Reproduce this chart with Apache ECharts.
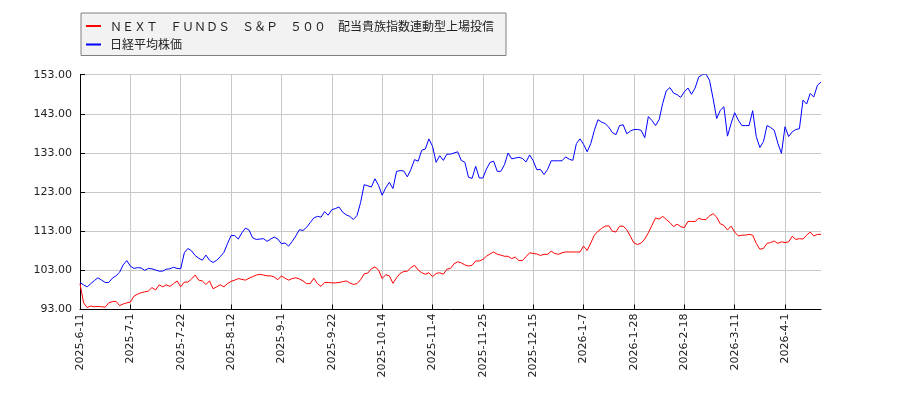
<!DOCTYPE html>
<html lang="ja">
<head>
	<meta charset="UTF-8">
	<title>NEXT FUNDS S&P 500 配当貴族 / 日経平均株価</title>
	<style type="text/css">
	html, body {
		margin: 0;
		padding: 0;
		background: #fff;
	}
	.chart {
		width: 900px;
		height: 400px;
	}
</style>
</head>
<body>
	<div class="chart"></div>

	<script type="text/javascript" src="https://cdn.jsdelivr.net/npm/echarts@6/dist/echarts.min.js"></script>
	<script type="text/javascript">

		// 系列名
		var fundName = 'ＮＥＸＴ　ＦＵＮＤＳ　Ｓ＆Ｐ　５００　配当貴族指数連動型上場投信';
		var nikkeiName = '日経平均株価';

		// 取引所休場日（土日以外）
		var holidays = ['2025-7-21', '2025-8-11', '2025-9-15', '2025-9-23', '2025-10-13',
			'2025-11-3', '2025-11-24', '2025-12-31', '2026-1-1', '2026-1-2',
			'2026-1-12', '2026-2-11', '2026-2-23', '2026-3-20'];

		// y軸目盛
		var yTicks = [93, 103, 113, 123, 133, 143, 153];

		// ファンド（指数化）
		var fundValues = [
			99.6, 94.7, 93.5, 93.9, 93.7, 93.8, 93.7, 93.6, 94.7, 95.0,
			95.1, 94.0, 94.4, 94.7, 94.9, 96.4, 96.9, 97.3, 97.5, 97.7,
			98.6, 98.0, 99.3, 98.8, 99.3, 98.9, 99.6, 100.3, 98.8, 100.0,
			100.0, 100.8, 101.8, 100.5, 100.3, 99.4, 100.3, 98.3, 98.8, 99.3,
			98.8, 99.6, 100.2, 100.5, 100.9, 100.7, 100.5, 101.0, 101.4, 101.8,
			102.0, 101.8, 101.6, 101.6, 101.3, 100.6, 101.6, 101.0, 100.5, 100.9,
			101.1, 100.8, 100.3, 99.6, 99.6, 101.0, 99.6, 98.9, 99.9, 99.9,
			99.8, 99.8, 99.9, 100.1, 100.3, 99.8, 99.4, 99.6, 100.6, 102.1,
			102.3, 103.4, 103.9, 103.1, 100.9, 101.9, 101.6, 99.7, 101.1, 102.2,
			102.7, 102.8, 103.7, 104.3, 103.1, 102.4, 102.0, 102.4, 101.4, 102.2,
			102.4, 102.0, 103.3, 103.5, 104.7, 105.2, 104.9, 104.4, 104.1, 104.3,
			105.4, 105.4, 105.8, 106.6, 107.2, 107.7, 107.1, 106.9, 106.6, 106.6,
			106.0, 106.4, 105.5, 105.5, 106.5, 107.5, 107.3, 107.2, 106.8, 107.1,
			107.1, 107.9, 107.3, 107.1, 107.5, 107.7, 107.7, 107.7, 107.7, 107.7,
			109.2, 108.1, 110.0, 112.0, 113.0, 113.7, 114.3, 114.4, 113.0, 112.8,
			114.3, 114.3, 113.4, 111.7, 110.0, 109.6, 110.0, 111.0, 112.6, 114.5,
			116.4, 116.1, 116.8, 116.0, 115.2, 114.2, 114.8, 114.2, 113.9, 115.5,
			115.5, 115.5, 116.3, 116.0, 116.0, 116.9, 117.5, 116.6, 114.9, 114.5,
			113.3, 114.3, 112.8, 111.8, 112.0, 112.0, 112.2, 112.0, 109.9, 108.4,
			108.6, 109.9, 110.1, 110.5, 109.9, 110.3, 110.1, 110.3, 111.7, 110.9,
			111.1, 111.0, 112.0, 112.8, 111.8, 112.2, 112.2
		];

		// 日経平均（指数化）
		var nikkeiValues = [
			99.9, 99.3, 98.8, 99.6, 100.4, 101.1, 100.5, 99.9, 99.9, 101.0,
			101.6, 102.5, 104.4, 105.5, 104.1, 103.5, 103.7, 103.6, 103.0, 103.5,
			103.4, 103.1, 102.8, 102.8, 103.3, 103.4, 103.8, 103.5, 103.4, 107.5,
			108.6, 108.0, 106.8, 106.1, 105.6, 106.9, 105.6, 105.0, 105.6, 106.5,
			107.6, 109.8, 111.9, 111.9, 111.0, 112.6, 113.8, 113.3, 111.3, 110.9,
			111.0, 111.1, 110.4, 111.0, 111.5, 111.0, 109.8, 110.0, 109.2, 110.4,
			111.8, 113.4, 113.2, 114.0, 115.2, 116.4, 116.8, 116.6, 118.0, 117.1,
			118.5, 118.8, 119.2, 117.9, 117.2, 116.8, 116.0, 117.0, 120.3, 124.9,
			124.6, 124.3, 126.4, 124.7, 122.2, 124.1, 125.5, 123.9, 128.3, 128.5,
			128.4, 126.9, 128.8, 131.3, 130.9, 133.7, 134.0, 136.6, 134.7, 130.6,
			132.3, 131.1, 132.7, 132.7, 133.0, 133.3, 131.1, 130.6, 126.8, 126.5,
			129.6, 126.6, 126.6, 128.9, 130.6, 130.9, 128.3, 128.3, 130.0, 133.0,
			131.5, 131.7, 131.9, 131.6, 130.7, 132.5, 131.0, 128.7, 128.8, 127.5,
			128.8, 131.0, 131.0, 131.0, 131.0, 132.0, 131.4, 131.1, 135.4, 136.6,
			135.2, 133.3, 135.4, 138.8, 141.5, 140.9, 140.5, 139.6, 138.2, 137.7,
			140.0, 140.2, 137.9, 138.6, 139.0, 139.0, 138.8, 136.9, 142.3, 141.3,
			140.0, 141.5, 145.7, 148.9, 149.7, 148.3, 147.9, 147.2, 148.6, 149.6,
			148.0, 149.6, 152.4, 153.0, 153.2, 151.6, 146.9, 141.8, 143.9, 144.8,
			137.3, 140.5, 143.3, 141.4, 140.0, 140.0, 140.0, 143.8, 137.2, 134.4,
			135.9, 140.0, 139.5, 138.8, 135.5, 132.9, 139.7, 137.2, 138.4, 139.0,
			139.2, 146.5, 145.5, 148.2, 147.3, 150.3, 151.1
		];

		// 営業日の日付ラベルを作る
		function tradingDays (startY, startM, startD, count) {
			var arr = [];
			var d = new Date(Date.UTC(startY, startM - 1, startD));
			while (arr.length < count) {
				var wd = d.getUTCDay();
				var s = d.getUTCFullYear() + '-' + (d.getUTCMonth() + 1) + '-' + d.getUTCDate();
				if (wd !== 0 && wd !== 6 && holidays.indexOf(s) < 0) {
					arr.push(s);
				}
				d.setUTCDate(d.getUTCDate() + 1);
			}
			return arr;
		}

		var dates = tradingDays(2025, 6, 11, fundValues.length);

		var chart = echarts.init(document.getElementsByClassName('chart')[0]);

		var option = {
			animation: false,
			textStyle: {
				fontFamily: 'DejaVu Sans'
			},
			legend: {
				orient: 'vertical',
				left: 81,
				top: 13,
				padding: [7, 12, 5, 5],
				itemGap: 6.5,
				itemWidth: 15,
				itemHeight: 2,
				icon: 'rect',
				backgroundColor: '#f2f2f2',
				borderColor: '#808080',
				borderWidth: 1,
				borderRadius: 0,
				textStyle: {
					fontFamily: 'Noto Sans CJK JP',
					fontSize: 12,
					color: '#222',
					padding: [0, 0, 0, 4]
				},
				data: [fundName, nikkeiName]
			},
			grid: {
				left: 80,
				right: 79,
				top: 74.7,
				bottom: 90.5,
				containLabel: false
			},
			xAxis: {
				type: 'category',
				boundaryGap: false,
				data: dates,
				axisLine: {
					lineStyle: { color: '#000', width: 1 }
				},
				axisTick: {
					inside: true,
					length: 5,
					interval: 13,
					lineStyle: { color: '#000' }
				},
				axisLabel: {
					interval: 13,
					rotate: 90,
					margin: 4,
					fontSize: 11,
					color: '#222'
				},
				splitLine: {
					show: true,
					interval: 13,
					lineStyle: { color: '#c8c8c8', width: 1 }
				}
			},
			yAxis: {
				type: 'value',
				min: yTicks[0],
				max: yTicks[yTicks.length - 1],
				interval: 10,
				axisLine: {
					show: true,
					lineStyle: { color: '#000', width: 1 }
				},
				axisTick: {
					show: true,
					inside: true,
					length: 5,
					lineStyle: { color: '#000' }
				},
				axisLabel: {
					margin: 8,
					fontSize: 11,
					color: '#222',
					formatter: function (v) {
						return v.toFixed(2);
					}
				},
				splitLine: {
					show: true,
					lineStyle: { color: '#c8c8c8', width: 1 }
				}
			},
			series: [
				{
					name: fundName,
					type: 'line',
					data: fundValues,
					showSymbol: false,
					symbol: 'none',
					color: '#ff0000',
					lineStyle: { color: '#ff0000', width: 1 },
					z: 3
				},
				{
					name: nikkeiName,
					type: 'line',
					data: nikkeiValues,
					showSymbol: false,
					symbol: 'none',
					color: '#0000ff',
					lineStyle: { color: '#0000ff', width: 1 },
					z: 2
				}
			]
		};

		chart.setOption(option);

	</script>
</body>
</html>
